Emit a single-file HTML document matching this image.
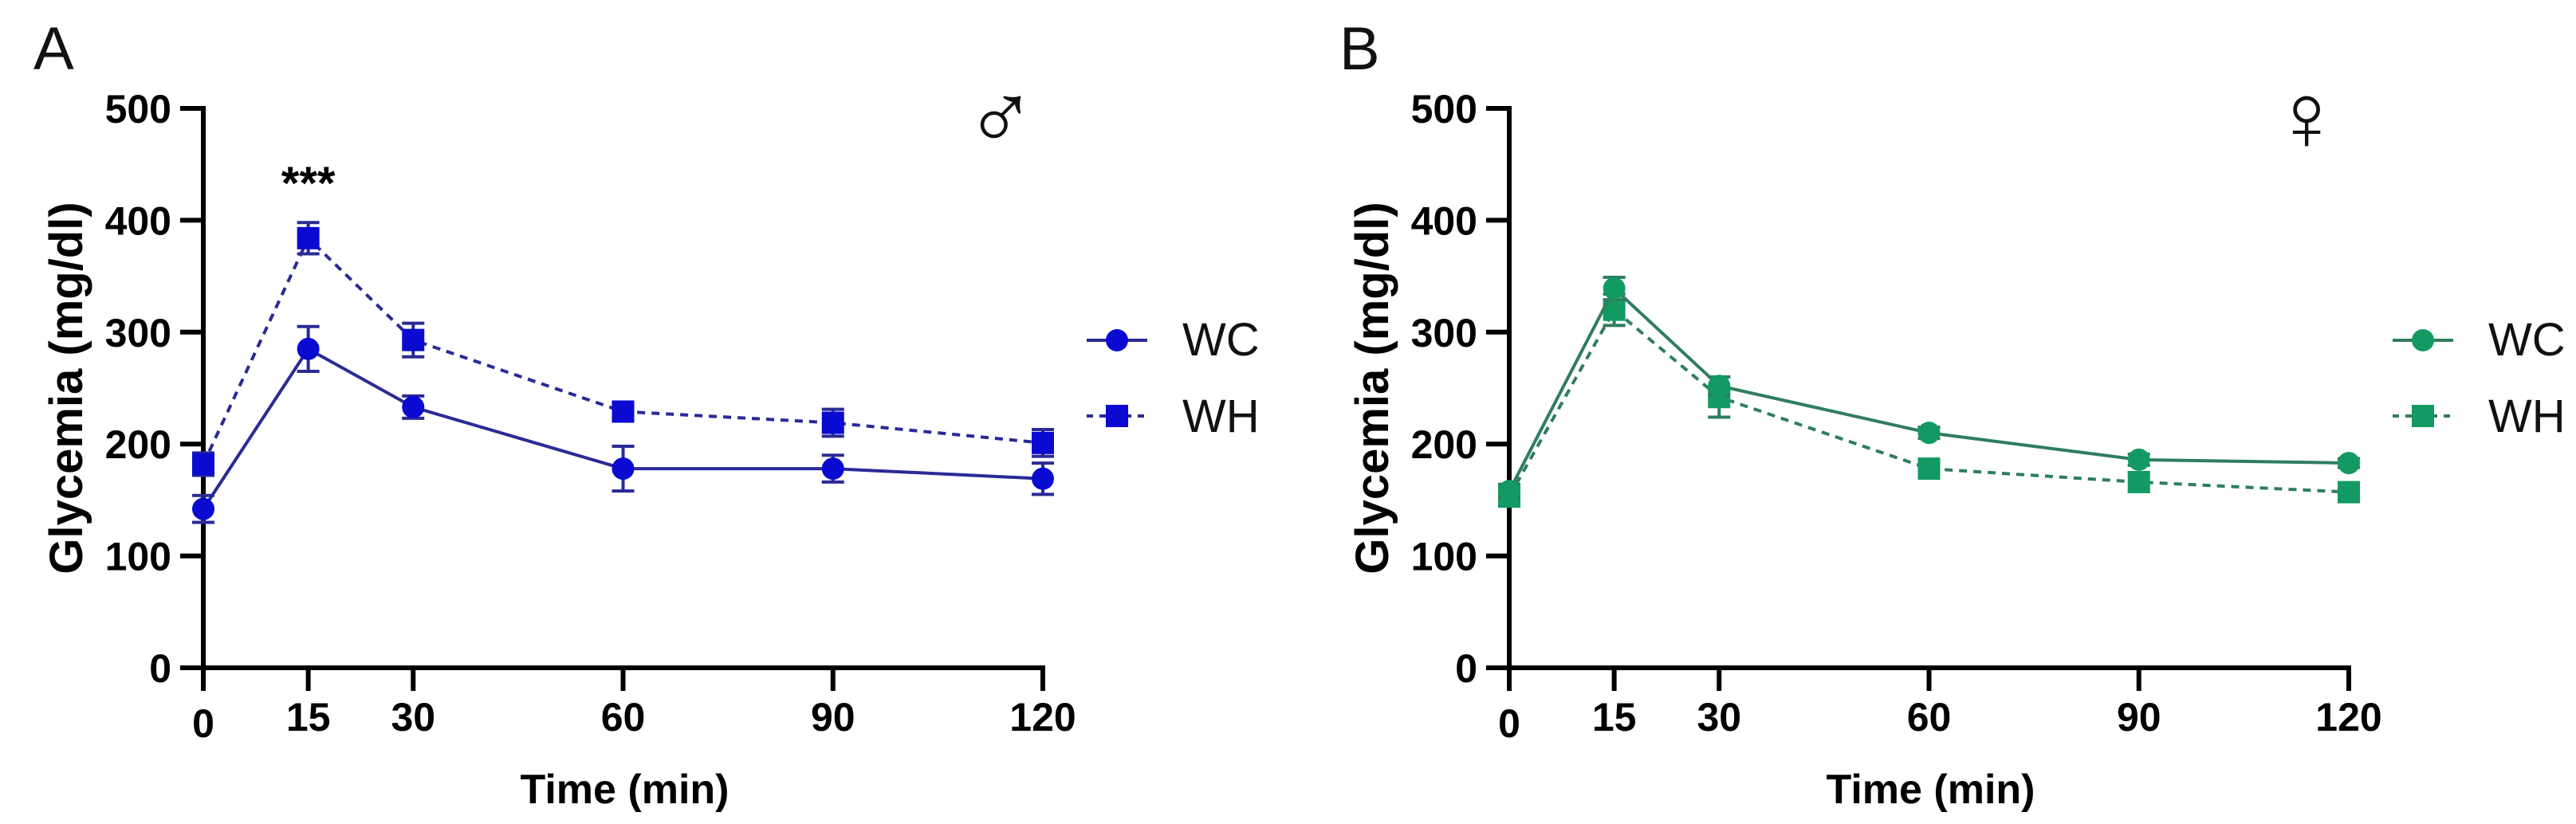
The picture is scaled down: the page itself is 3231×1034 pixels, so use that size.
<!DOCTYPE html>
<html><head><meta charset="utf-8"><style>
html,body{margin:0;padding:0;background:#fff;}
svg{display:block;}
text{font-family:"Liberation Sans",sans-serif;}
</style></head><body>
<svg id="chart" width="3231" height="1034" viewBox="0 0 3231 1034" xmlns="http://www.w3.org/2000/svg"></svg>
<script>
const times = [0, 15, 30, 60, 90, 120];
const yTicks = [0, 100, 200, 300, 400, 500];
const xTickLabels = ["0", "15", "30", "60", "90", "120"];
const maleWC = [142, 285, 233, 178, 178, 169];
const maleWCerr = [12, 20, 10, 20, 12, 14];
const maleWH = [182, 384, 293, 229, 219, 201];
const maleWHerr = [10, 14, 15, 8, 12, 12];
const femaleWC = [158, 339, 252, 210, 186, 183];
const femaleWCerr = [6, 10, 8, 5, 5, 4];
const femaleWH = [153, 320, 242, 178, 166, 157];
const femaleWHerr = [5, 14, 18, 5, 8, 4];

const NS = "http://www.w3.org/2000/svg";
const svg = document.getElementById("chart");
function mk(tag, attrs, parent, txt) {
  const e = document.createElementNS(NS, tag);
  for (const k in attrs) e.setAttribute(k, attrs[k]);
  if (txt !== undefined) e.textContent = txt;
  (parent || svg).appendChild(e);
  return e;
}

function panel(ox, letter, sym, wc, wcErr, wh, whErr, markColor, lineColor, stars, key) {
  const g = mk("g", {});
  
  
  const x0 = ox, x1 = ox + 1053, yb = 838, yt = 136;
  const X = t => x0 + (t / 120) * (x1 - x0);
  const Y = v => yb - (v / 500) * (yb - yt);

  const lab = mk("text", {x: ox - 213, y: 87, "font-size": 76, fill: "#111"}, g, letter);
  
  

  const ya = mk("g", {}, g);
  
  
  mk("line", {x1: x0, y1: Y(500) - 3, x2: x0, y2: yb + 29, stroke: "#000", "stroke-width": 6}, ya);
  yTicks.forEach(v => {
    mk("line", {x1: x0 - 29, y1: Y(v), x2: x0, y2: Y(v), stroke: "#000", "stroke-width": 6}, ya);
    const t = mk("text", {x: x0 - 40, y: Y(v) + 18, "font-size": 50, "font-weight": "bold", "text-anchor": "end", fill: "#000"}, ya, String(v));
    
    
  });
  const yt2 = mk("text", {x: 0, y: 0, "font-size": 58, "font-weight": "bold", "text-anchor": "middle", fill: "#000",
    transform: `translate(${ox - 152},487) rotate(-90)`}, g, "Glycemia (mg/dl)");
  
  

  const xa = mk("g", {}, g);
  
  
  mk("line", {x1: x0 - 29, y1: yb, x2: x1 + 3, y2: yb, stroke: "#000", "stroke-width": 6}, xa);
  times.forEach((t, i) => {
    mk("line", {x1: X(t), y1: yb, x2: X(t), y2: yb + 29, stroke: "#000", "stroke-width": 6}, xa);
    const tl = mk("text", {x: X(t), y: (i === 0 ? 925 : 917), "font-size": 50, "font-weight": "bold", "text-anchor": "middle", fill: "#000"}, xa, xTickLabels[i]);
    
    
  });
  const xt = mk("text", {x: X(60) + 2, y: 1008, "font-size": 52, "font-weight": "bold", "text-anchor": "middle", fill: "#000"}, g, "Time (min)");
  
  

  function series(vals, errs, dashed, shape, name) {
    const sg = mk("g", {}, g);
    
    
    const pts = vals.map((v, i) => X(times[i]) + "," + Y(v)).join(" ");
    const attrs = {points: pts, fill: "none", stroke: lineColor, "stroke-width": 4};
    if (dashed) attrs["stroke-dasharray"] = "10,8";
    mk("polyline", attrs, sg);
    vals.forEach((v, i) => {
      const cx = X(times[i]), cy = Y(v), e = errs[i];
      const eb = mk("path", {d: `M${cx},${Y(v + e)}V${Y(v - e)}M${cx - 14},${Y(v + e)}H${cx + 14}M${cx - 14},${Y(v - e)}H${cx + 14}`,
        stroke: lineColor, "stroke-width": 4, fill: "none"}, sg);
      
      
      let m;
      if (shape === "circle") m = mk("circle", {cx: cx, cy: cy, r: 14, fill: markColor}, sg);
      else m = mk("rect", {x: cx - 14, y: cy - 14, width: 28, height: 28, fill: markColor}, sg);
      
      
    });
  }
  series(wh, whErr, true, "square", "wh");
  series(wc, wcErr, false, "circle", "wc");

  if (stars) {
    const s = mk("text", {x: X(15), y: 250, "font-size": 58, "font-weight": "bold", "text-anchor": "middle", fill: "#000"}, g, "***");
    
    
  }
  const sx = mk("text", {x: ox + 1000, y: 188, "font-size": 120, "text-anchor": "middle", fill: "#111", "font-family": "DejaVu Sans, sans-serif"}, g, sym);
  
  

  const lg = mk("g", {}, g);
  
  
  const lx = ox + 1146;
  const e1 = mk("g", {}, lg);
  
  
  mk("line", {x1: lx - 38, y1: 427, x2: lx + 38, y2: 427, stroke: lineColor, "stroke-width": 4}, e1);
  mk("circle", {cx: lx, cy: 427, r: 14, fill: markColor}, e1);
  mk("text", {x: lx + 82, y: 446, "font-size": 58, fill: "#111"}, e1, "WC");
  const e2 = mk("g", {}, lg);
  
  
  mk("line", {x1: lx - 38, y1: 522, x2: lx + 38, y2: 522, stroke: lineColor, "stroke-width": 4, "stroke-dasharray": "8,8"}, e2);
  mk("rect", {x: lx - 14, y: 508, width: 28, height: 28, fill: markColor}, e2);
  mk("text", {x: lx + 82, y: 542, "font-size": 58, fill: "#111"}, e2, "WH");
}

panel(255, "A", "\u2642", maleWC, maleWCerr, maleWH, maleWHerr, "#0a0ad0", "#2a2a96", true, "male");
panel(1893, "B", "\u2640", femaleWC, femaleWCerr, femaleWH, femaleWHerr, "#129a62", "#2f7d5f", false, "female");
</script>
</body></html>
